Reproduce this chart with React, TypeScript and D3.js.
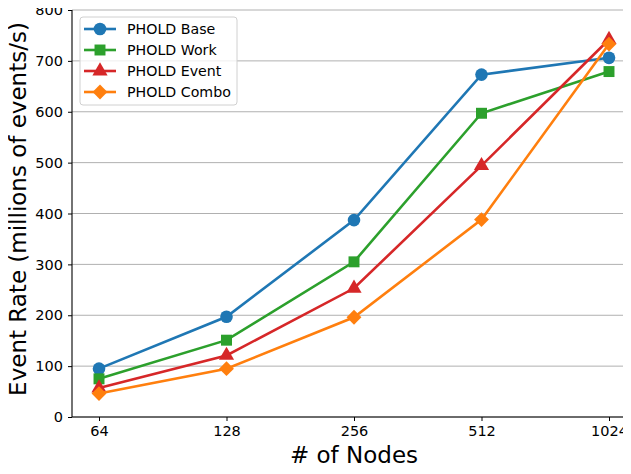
import React, { useEffect, useRef } from "react";
import * as d3 from "d3";

const nodes = ["64", "128", "256", "512", "1024"];
const baseRate = [95, 197, 387, 673, 706];
const workRate = [75, 151, 305, 597, 679];
const eventRate = [57, 121, 253, 494, 742];
const comboRate = [46, 95, 196, 388, 733];
const yTicks = [0, 100, 200, 300, 400, 500, 600, 700, 800];

// matplotlib-style diamond: a square turned 45 degrees
const diamond = {
  draw(ctx: any, size: number) {
    const r = Math.sqrt(size / 2);
    ctx.moveTo(0, -r);
    ctx.lineTo(r, 0);
    ctx.lineTo(0, r);
    ctx.lineTo(-r, 0);
    ctx.closePath();
  },
};

const seriesList = [
  { name: "PHOLD Base", values: baseRate, color: "#1f77b4", symbol: d3.symbolCircle, size: 125 },
  { name: "PHOLD Work", values: workRate, color: "#2ca02c", symbol: d3.symbolSquare, size: 120 },
  { name: "PHOLD Event", values: eventRate, color: "#d62728", symbol: d3.symbolTriangle, size: 100 },
  { name: "PHOLD Combo", values: comboRate, color: "#ff7f0e", symbol: diamond, size: 110 },
];

const App = () => {
  const svgRef = useRef<SVGSVGElement>(null);

  useEffect(() => {
    const svg = d3.select(svgRef.current);
    svg.selectAll("*").remove();
    const font = "'DejaVu Sans', sans-serif";

    const left = 72, right = 630, top = 10, bottom = 417;

    // categorical x positions, evenly spaced
    const x = d3.scalePoint<string>().domain(nodes).range([99, 609]);
    const y = d3.scaleLinear().domain([0, 800]).range([bottom, top]);

    // horizontal grid
    svg.append("g")
      .selectAll("line")
      .data(yTicks)
      .enter()
      .append("line")
      .attr("x1", left)
      .attr("x2", right)
      .attr("y1", (d) => y(d))
      .attr("y2", (d) => y(d))
      .attr("stroke", "#b0b0b0")
      .attr("stroke-width", 1);

    // axes
    const yAxis = svg.append("g")
      .attr("transform", `translate(${left},0)`)
      .call(d3.axisLeft(y).tickValues(yTicks).tickSize(4).tickPadding(5));
    const xAxis = svg.append("g")
      .attr("transform", `translate(0,${bottom})`)
      .call(d3.axisBottom(x).tickSize(4).tickPadding(5));
    [yAxis, xAxis].forEach((a) => {
      a.attr("font-family", font).attr("font-size", 14.5);
      a.select(".domain").attr("stroke", "#000").attr("stroke-width", 1.1);
      a.selectAll(".tick line").attr("stroke", "#000");
      a.selectAll("text").attr("fill", "#000");
    });
    xAxis.select(".domain").attr("d", `M${left},0H${right}`);
    yAxis.select(".domain").attr("d", `M0,${bottom}V${top}`);

    // series
    const line = d3.line<number>()
      .x((_, i) => x(nodes[i]) as number)
      .y((d) => y(d));

    seriesList.forEach((s) => {
      const g = svg.append("g");
      g.append("path")
        .attr("d", line(s.values))
        .attr("fill", "none")
        .attr("stroke", s.color)
        .attr("stroke-width", 2.6);
      g.selectAll("path.m")
        .data(s.values)
        .enter()
        .append("path")
        .attr("class", "m")
        .attr("d", d3.symbol().type(s.symbol as any).size(s.size)())
        .attr("transform", (d, i) => `translate(${x(nodes[i])},${y(d)})`)
        .attr("fill", s.color);
    });

    // axis labels
    svg.append("text")
      .attr("x", 354)
      .attr("y", 463)
      .attr("text-anchor", "middle")
      .attr("font-family", font)
      .attr("font-size", 23)
      .text("# of Nodes");
    svg.append("text")
      .attr("transform", `translate(26,209) rotate(-90)`)
      .attr("text-anchor", "middle")
      .attr("font-family", font)
      .attr("font-size", 23)
      .text("Event Rate (millions of events/s)");

    // legend
    const lg = svg.append("g");
    lg.append("rect")
      .attr("x", 80)
      .attr("y", 17)
      .attr("width", 157)
      .attr("height", 88)
      .attr("rx", 3)
      .attr("fill", "#fff")
      .attr("fill-opacity", 0.8)
      .attr("stroke", "#d0d0d0");
    seriesList.forEach((s, i) => {
      const cy = 29 + i * 21;
      lg.append("line")
        .attr("x1", 84)
        .attr("x2", 116)
        .attr("y1", cy)
        .attr("y2", cy)
        .attr("stroke", s.color)
        .attr("stroke-width", 2.6);
      lg.append("path")
        .attr("d", d3.symbol().type(s.symbol as any).size(s.size)())
        .attr("transform", `translate(100,${cy})`)
        .attr("fill", s.color);
      lg.append("text")
        .attr("x", 127)
        .attr("y", cy)
        .attr("dy", "0.35em")
        .attr("font-family", font)
        .attr("font-size", 14.2)
        .text(s.name);
    });
  }, []);

  return <svg ref={svgRef} width={631} height={474} style={{ display: "block", margin: "-8px" }} />;
};

export default App;
